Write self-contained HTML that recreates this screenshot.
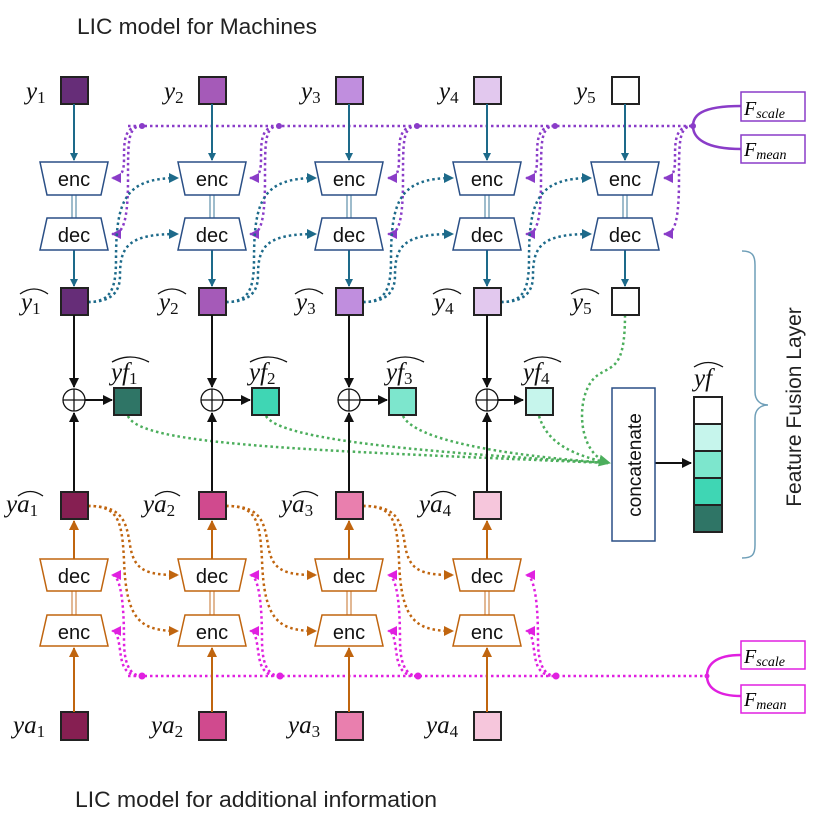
<!DOCTYPE html>
<html><head><meta charset="utf-8"><style>
html,body{margin:0;padding:0;background:#fff}
svg{display:block}
.t{font-family:"Liberation Sans",sans-serif}
.m{font-family:"Liberation Serif",serif;font-style:italic}
</style></head><body>
<svg width="815" height="831" viewBox="0 0 815 831" xmlns="http://www.w3.org/2000/svg">
<defs>
<marker id="ab" markerWidth="8" markerHeight="8" refX="7" refY="4" orient="auto" markerUnits="userSpaceOnUse"><path d="M0,0 L8,4 L0,8Z" fill="#1d6a8a"/></marker>
<marker id="ak" markerWidth="10" markerHeight="10" refX="9" refY="5" orient="auto" markerUnits="userSpaceOnUse"><path d="M0,0 L10,5 L0,10Z" fill="#111"/></marker>
<marker id="ao" markerWidth="10" markerHeight="10" refX="9" refY="5" orient="auto" markerUnits="userSpaceOnUse"><path d="M0,0 L10,5 L0,10Z" fill="#c0650f"/></marker>
<marker id="ap" markerWidth="10" markerHeight="10" refX="9" refY="5" orient="auto" markerUnits="userSpaceOnUse"><path d="M0,0 L10,5 L0,10Z" fill="#8a3cc8"/></marker>
<marker id="am" markerWidth="10" markerHeight="10" refX="9" refY="5" orient="auto" markerUnits="userSpaceOnUse"><path d="M0,0 L10,5 L0,10Z" fill="#e020e0"/></marker>
<marker id="ag" markerWidth="12" markerHeight="12" refX="11" refY="6" orient="auto" markerUnits="userSpaceOnUse"><path d="M0,0 L12,6 L0,12Z" fill="#4cae5c"/></marker>
<marker id="ab2" markerWidth="10" markerHeight="10" refX="9" refY="5" orient="auto" markerUnits="userSpaceOnUse"><path d="M0,0 L10,5 L0,10Z" fill="#1d6a8a"/></marker>
</defs>

<text class="t" x="77" y="34" font-size="22" fill="#222" textLength="240" lengthAdjust="spacingAndGlyphs">LIC model for Machines</text>
<text class="t" x="75" y="807" font-size="22" fill="#222" textLength="362" lengthAdjust="spacingAndGlyphs">LIC model for additional information</text>

<g fill="none" stroke="#8a3cc8" stroke-width="2.5" stroke-dasharray="2.5 3">
<path d="M128,126 L693,126"/>
<path d="M142,126 C124,126 124,140 124,160 C124,176 118,178 112,178" marker-end="url(#ap)"/>
<path d="M142,126 C128,126 128,140 128,180 C128,230 120,234 112,234" marker-end="url(#ap)"/>
<path d="M279,126 C261,126 261,140 261,160 C261,176 256,178 250,178" marker-end="url(#ap)"/>
<path d="M279,126 C265,126 265,140 265,180 C265,230 258,234 250,234" marker-end="url(#ap)"/>
<path d="M417,126 C399,126 399,140 399,160 C399,176 394,178 388,178" marker-end="url(#ap)"/>
<path d="M417,126 C403,126 403,140 403,180 C403,230 396,234 388,234" marker-end="url(#ap)"/>
<path d="M555,126 C537,126 537,140 537,160 C537,176 532,178 526,178" marker-end="url(#ap)"/>
<path d="M555,126 C541,126 541,140 541,180 C541,230 534,234 526,234" marker-end="url(#ap)"/>
<path d="M693,126 C675,126 675,140 675,160 C675,176 670,178 664,178" marker-end="url(#ap)"/>
<path d="M693,126 C679,126 679,140 679,180 C679,230 672,234 664,234" marker-end="url(#ap)"/>
</g>
<g fill="#8a3cc8"><circle cx="142" cy="126" r="3"/><circle cx="279" cy="126" r="3"/><circle cx="417" cy="126" r="3"/><circle cx="555" cy="126" r="3"/><circle cx="693" cy="126" r="3"/></g>
<path d="M741,106 C700,106 693,116 693,126 C693,138 705,149 741,149" fill="none" stroke="#8a3cc8" stroke-width="2.5"/>
<rect x="741" y="92" width="64" height="29" fill="#fff" stroke="#8a3cc8" stroke-width="1.5"/>
<rect x="741" y="135" width="64" height="28" fill="#fff" stroke="#8a3cc8" stroke-width="1.5"/>
<text class="m" x="744" y="115" font-size="20">F<tspan font-size="14" dy="3">scale</tspan></text>
<text class="m" x="744" y="156" font-size="20">F<tspan font-size="14" dy="3">mean</tspan></text>

<g fill="none" stroke="#1d6a8a" stroke-width="2.5" stroke-dasharray="2.5 3">
<path d="M88,302 C110,302 116,290 116,260 C116,200 125,178 178,178" marker-end="url(#ab2)"/>
<path d="M88,302 C114,302 120,290 120,275 C120,245 130,234 178,234" marker-end="url(#ab2)"/>
<path d="M226,302 C248,302 254,290 254,260 C254,200 263,178 316,178" marker-end="url(#ab2)"/>
<path d="M226,302 C252,302 258,290 258,275 C258,245 268,234 316,234" marker-end="url(#ab2)"/>
<path d="M363,302 C385,302 391,290 391,260 C391,200 400,178 453,178" marker-end="url(#ab2)"/>
<path d="M363,302 C389,302 395,290 395,275 C395,245 405,234 453,234" marker-end="url(#ab2)"/>
<path d="M501,302 C523,302 529,290 529,260 C529,200 538,178 591,178" marker-end="url(#ab2)"/>
<path d="M501,302 C527,302 533,290 533,275 C533,245 543,234 591,234" marker-end="url(#ab2)"/>
</g>

<g fill="none" stroke="#c0650f" stroke-width="2.5" stroke-dasharray="2.5 3">
<path d="M88,506 C122,506 126,520 130,545 C134,570 145,575 178,575" marker-end="url(#ao)"/>
<path d="M88,506 C118,506 122,520 124,560 C126,620 140,631 178,631" marker-end="url(#ao)"/>
<path d="M226,506 C260,506 264,520 268,545 C272,570 283,575 316,575" marker-end="url(#ao)"/>
<path d="M226,506 C256,506 260,520 262,560 C264,620 278,631 316,631" marker-end="url(#ao)"/>
<path d="M363,506 C397,506 401,520 405,545 C409,570 420,575 453,575" marker-end="url(#ao)"/>
<path d="M363,506 C393,506 397,520 399,560 C401,620 415,631 453,631" marker-end="url(#ao)"/>
</g>

<g fill="none" stroke="#e020e0" stroke-width="2.5" stroke-dasharray="2.5 3">
<path d="M128,676 L707,676"/>
<path d="M142,676 C124,676 122,665 120,650 C118,635 116,631 112,631" marker-end="url(#am)"/>
<path d="M142,676 C128,676 124,660 124,640 C124,590 118,575 112,575" marker-end="url(#am)"/>
<path d="M280,676 C262,676 260,665 258,650 C256,635 254,631 250,631" marker-end="url(#am)"/>
<path d="M280,676 C266,676 262,660 262,640 C262,590 256,575 250,575" marker-end="url(#am)"/>
<path d="M418,676 C400,676 398,665 396,650 C394,635 392,631 388,631" marker-end="url(#am)"/>
<path d="M418,676 C404,676 400,660 400,640 C400,590 394,575 388,575" marker-end="url(#am)"/>
<path d="M556,676 C538,676 536,665 534,650 C532,635 530,631 526,631" marker-end="url(#am)"/>
<path d="M556,676 C542,676 538,660 538,640 C538,590 532,575 526,575" marker-end="url(#am)"/>
</g>
<g fill="#e020e0"><circle cx="142" cy="676" r="3.5"/><circle cx="280" cy="676" r="3.5"/><circle cx="418" cy="676" r="3.5"/><circle cx="556" cy="676" r="3.5"/><circle cx="707" cy="676" r="2.5"/></g>
<path d="M741,655 C715,655 707,665 707,676 C707,688 718,696 741,696" fill="none" stroke="#e020e0" stroke-width="2.5"/>
<rect x="741" y="641" width="64" height="28" fill="#fff" stroke="#e020e0" stroke-width="1.5"/>
<rect x="741" y="685" width="64" height="28" fill="#fff" stroke="#e020e0" stroke-width="1.5"/>
<text class="m" x="744" y="663" font-size="20">F<tspan font-size="14" dy="3">scale</tspan></text>
<text class="m" x="744" y="706" font-size="20">F<tspan font-size="14" dy="3">mean</tspan></text>

<g fill="none" stroke="#4cae5c" stroke-width="2.5" stroke-dasharray="2.5 3">
<path d="M128,416 C140,445 300,450 608,463"/>
<path d="M266,416 C280,440 420,452 608,463"/>
<path d="M403,416 C415,440 500,455 608,463"/>
<path d="M539,416 C548,445 575,455 608,463"/>
<path d="M625,315 C625,370 612,365 598,375 C575,390 575,455 610,463" marker-end="url(#ag)"/>
</g>

<g stroke-width="2">
<rect x="61" y="77" width="27" height="27" fill="#662d78" stroke="#222"/>
<rect x="199" y="77" width="27" height="27" fill="#a55ab8" stroke="#222"/>
<rect x="336" y="77" width="27" height="27" fill="#c08ede" stroke="#222"/>
<rect x="474" y="77" width="27" height="27" fill="#e2c8ee" stroke="#222"/>
<rect x="612" y="77" width="27" height="27" fill="#fff" stroke="#222"/>
<rect x="61" y="288" width="27" height="27" fill="#662d78" stroke="#222"/>
<rect x="199" y="288" width="27" height="27" fill="#a55ab8" stroke="#222"/>
<rect x="336" y="288" width="27" height="27" fill="#c08ede" stroke="#222"/>
<rect x="474" y="288" width="27" height="27" fill="#e2c8ee" stroke="#222"/>
<rect x="612" y="288" width="27" height="27" fill="#fff" stroke="#222"/>
</g>
<g stroke="#1d6a8a" stroke-width="2" fill="none">
<path d="M74,104 V160" marker-end="url(#ab)"/><path d="M74,250 V286" marker-end="url(#ab)"/>
<path d="M212,104 V160" marker-end="url(#ab)"/><path d="M212,250 V286" marker-end="url(#ab)"/>
<path d="M349,104 V160" marker-end="url(#ab)"/><path d="M349,250 V286" marker-end="url(#ab)"/>
<path d="M487,104 V160" marker-end="url(#ab)"/><path d="M487,250 V286" marker-end="url(#ab)"/>
<path d="M625,104 V160" marker-end="url(#ab)"/><path d="M625,250 V286" marker-end="url(#ab)"/>
</g>
<g stroke="#7fa6bc" stroke-width="1.5">
<path d="M72,195 V218 M76,195 V218 M210,195 V218 M214,195 V218 M347,195 V218 M351,195 V218 M485,195 V218 M489,195 V218 M623,195 V218 M627,195 V218"/>
</g>
<g fill="#fff" stroke="#2a4f86" stroke-width="1.5">
<polygon points="40,162 108,162 101,195 47,195"/><polygon points="47,218 101,218 108,250 40,250"/>
<polygon points="178,162 246,162 239,195 185,195"/><polygon points="185,218 239,218 246,250 178,250"/>
<polygon points="315,162 383,162 376,195 322,195"/><polygon points="322,218 376,218 383,250 315,250"/>
<polygon points="453,162 521,162 514,195 460,195"/><polygon points="460,218 514,218 521,250 453,250"/>
<polygon points="591,162 659,162 652,195 598,195"/><polygon points="598,218 652,218 659,250 591,250"/>
</g>
<g class="t" font-size="20" fill="#111" text-anchor="middle">
<text x="74" y="186">enc</text><text x="74" y="242">dec</text>
<text x="212" y="186">enc</text><text x="212" y="242">dec</text>
<text x="349" y="186">enc</text><text x="349" y="242">dec</text>
<text x="487" y="186">enc</text><text x="487" y="242">dec</text>
<text x="625" y="186">enc</text><text x="625" y="242">dec</text>
</g>

<g class="m" font-size="25" fill="#111">
<text x="26" y="99">y<tspan font-size="17" font-style="normal" dy="4">1</tspan></text>
<text x="164" y="99">y<tspan font-size="17" font-style="normal" dy="4">2</tspan></text>
<text x="301" y="99">y<tspan font-size="17" font-style="normal" dy="4">3</tspan></text>
<text x="439" y="99">y<tspan font-size="17" font-style="normal" dy="4">4</tspan></text>
<text x="576" y="99">y<tspan font-size="17" font-style="normal" dy="4">5</tspan></text>
<text x="21" y="310">y<tspan font-size="17" font-style="normal" dy="4">1</tspan></text>
<text x="159" y="310">y<tspan font-size="17" font-style="normal" dy="4">2</tspan></text>
<text x="296" y="310">y<tspan font-size="17" font-style="normal" dy="4">3</tspan></text>
<text x="434" y="310">y<tspan font-size="17" font-style="normal" dy="4">4</tspan></text>
<text x="572" y="310">y<tspan font-size="17" font-style="normal" dy="4">5</tspan></text>
</g>
<g fill="none" stroke="#111" stroke-width="1.3">
<path d="M20,294 Q34,284 48,294 M158,294 Q172,284 186,294 M295,294 Q309,284 323,294 M433,294 Q447,284 461,294 M571,294 Q585,284 599,294"/>
</g>

<g stroke="#111" stroke-width="2" fill="none">
<path d="M74,315 V387" marker-end="url(#ak)"/>
<path d="M212,315 V387" marker-end="url(#ak)"/>
<path d="M349,315 V387" marker-end="url(#ak)"/>
<path d="M487,315 V387" marker-end="url(#ak)"/>
<path d="M74,492 V413" marker-end="url(#ak)"/>
<path d="M212,492 V413" marker-end="url(#ak)"/>
<path d="M349,492 V413" marker-end="url(#ak)"/>
<path d="M487,492 V413" marker-end="url(#ak)"/>
<path d="M85,400 H112" marker-end="url(#ak)"/>
<path d="M223,400 H250" marker-end="url(#ak)"/>
<path d="M360,400 H387" marker-end="url(#ak)"/>
<path d="M498,400 H523" marker-end="url(#ak)"/>
<path d="M655,463 H691" marker-end="url(#ak)"/>
</g>
<g stroke="#111" stroke-width="1.3" fill="#fff">
<circle cx="74" cy="400" r="11"/><circle cx="212" cy="400" r="11"/><circle cx="349" cy="400" r="11"/><circle cx="487" cy="400" r="11"/>
</g>
<g stroke="#111" stroke-width="1.3">
<path d="M63,400 H85 M74,389 V411 M201,400 H223 M212,389 V411 M338,400 H360 M349,389 V411 M476,400 H498 M487,389 V411"/>
</g>
<g stroke="#222" stroke-width="2">
<rect x="114" y="388" width="27" height="27" fill="#2f7566"/>
<rect x="252" y="388" width="27" height="27" fill="#3fd6b4"/>
<rect x="389" y="388" width="27" height="27" fill="#7de6cd"/>
<rect x="526" y="388" width="27" height="27" fill="#c6f5ec"/>
</g>
<g class="m" font-size="25" fill="#111">
<text x="111" y="380">yf<tspan font-size="17" font-style="normal" dy="4">1</tspan></text>
<text x="249" y="380">yf<tspan font-size="17" font-style="normal" dy="4">2</tspan></text>
<text x="386" y="380">yf<tspan font-size="17" font-style="normal" dy="4">3</tspan></text>
<text x="523" y="380">yf<tspan font-size="17" font-style="normal" dy="4">4</tspan></text>
<text x="694" y="386">yf</text>
</g>
<g fill="none" stroke="#111" stroke-width="1.3">
<path d="M112,362 Q130,352 149,362 M250,362 Q268,352 287,362 M387,362 Q405,352 424,362 M524,362 Q542,352 561,362 M694,367 Q708,358 723,367"/>
</g>
<rect x="612" y="388" width="43" height="153" fill="#fff" stroke="#2a4f86" stroke-width="1.5"/>
<text class="t" font-size="19" fill="#111" text-anchor="middle" transform="translate(641,465) rotate(-90)">concatenate</text>
<g stroke="#222" stroke-width="2">
<rect x="694" y="397" width="28" height="27" fill="#fff"/>
<rect x="694" y="424" width="28" height="27" fill="#c6f5ec"/>
<rect x="694" y="451" width="28" height="27" fill="#7de6cd"/>
<rect x="694" y="478" width="28" height="27" fill="#3fd6b4"/>
<rect x="694" y="505" width="28" height="27" fill="#2f7566"/>
</g>
<path d="M742,251 C752,251 755,255 755,265 L755,392 C755,400 760,405 768,405 C760,405 755,410 755,418 L755,545 C755,555 752,558 742,558" fill="none" stroke="#6f9fb8" stroke-width="1.5"/>
<text class="t" font-size="21" fill="#222" text-anchor="middle" transform="translate(801,407) rotate(-90)">Feature Fusion Layer</text>

<g stroke-width="2">
<rect x="61" y="492" width="27" height="27" fill="#861f52" stroke="#222"/>
<rect x="199" y="492" width="27" height="27" fill="#d04a8e" stroke="#222"/>
<rect x="336" y="492" width="27" height="27" fill="#e97fae" stroke="#222"/>
<rect x="474" y="492" width="27" height="27" fill="#f6c6dc" stroke="#222"/>
<rect x="61" y="712" width="27" height="28" fill="#861f52" stroke="#222"/>
<rect x="199" y="712" width="27" height="28" fill="#d04a8e" stroke="#222"/>
<rect x="336" y="712" width="27" height="28" fill="#e97fae" stroke="#222"/>
<rect x="474" y="712" width="27" height="28" fill="#f6c6dc" stroke="#222"/>
</g>
<g stroke="#c0650f" stroke-width="2" fill="none">
<path d="M74,712 V648" marker-end="url(#ao)"/><path d="M74,559 V521" marker-end="url(#ao)"/>
<path d="M212,712 V648" marker-end="url(#ao)"/><path d="M212,559 V521" marker-end="url(#ao)"/>
<path d="M349,712 V648" marker-end="url(#ao)"/><path d="M349,559 V521" marker-end="url(#ao)"/>
<path d="M487,712 V648" marker-end="url(#ao)"/><path d="M487,559 V521" marker-end="url(#ao)"/>
</g>
<g stroke="#d9a070" stroke-width="1.5">
<path d="M72,591 V615 M76,591 V615 M210,591 V615 M214,591 V615 M347,591 V615 M351,591 V615 M485,591 V615 M489,591 V615"/>
</g>
<g fill="#fff" stroke="#c0650f" stroke-width="1.5">
<polygon points="40,559 108,559 101,591 47,591"/><polygon points="47,615 101,615 108,646 40,646"/>
<polygon points="178,559 246,559 239,591 185,591"/><polygon points="185,615 239,615 246,646 178,646"/>
<polygon points="315,559 383,559 376,591 322,591"/><polygon points="322,615 376,615 383,646 315,646"/>
<polygon points="453,559 521,559 514,591 460,591"/><polygon points="460,615 514,615 521,646 453,646"/>
</g>
<g class="t" font-size="20" fill="#111" text-anchor="middle">
<text x="74" y="583">dec</text><text x="74" y="639">enc</text>
<text x="212" y="583">dec</text><text x="212" y="639">enc</text>
<text x="349" y="583">dec</text><text x="349" y="639">enc</text>
<text x="487" y="583">dec</text><text x="487" y="639">enc</text>
</g>
<g class="m" font-size="25" fill="#111">
<text x="6" y="512">ya<tspan font-size="17" font-style="normal" dy="4">1</tspan></text>
<text x="143" y="512">ya<tspan font-size="17" font-style="normal" dy="4">2</tspan></text>
<text x="281" y="512">ya<tspan font-size="17" font-style="normal" dy="4">3</tspan></text>
<text x="419" y="512">ya<tspan font-size="17" font-style="normal" dy="4">4</tspan></text>
<text x="13" y="733">ya<tspan font-size="17" font-style="normal" dy="4">1</tspan></text>
<text x="151" y="733">ya<tspan font-size="17" font-style="normal" dy="4">2</tspan></text>
<text x="288" y="733">ya<tspan font-size="17" font-style="normal" dy="4">3</tspan></text>
<text x="426" y="733">ya<tspan font-size="17" font-style="normal" dy="4">4</tspan></text>
</g>
<g fill="none" stroke="#111" stroke-width="1.3">
<path d="M18,496 Q30,487 43,496 M155,496 Q167,487 180,496 M293,496 Q305,487 318,496 M431,496 Q443,487 456,496"/>
</g>
</svg>
</body></html>
